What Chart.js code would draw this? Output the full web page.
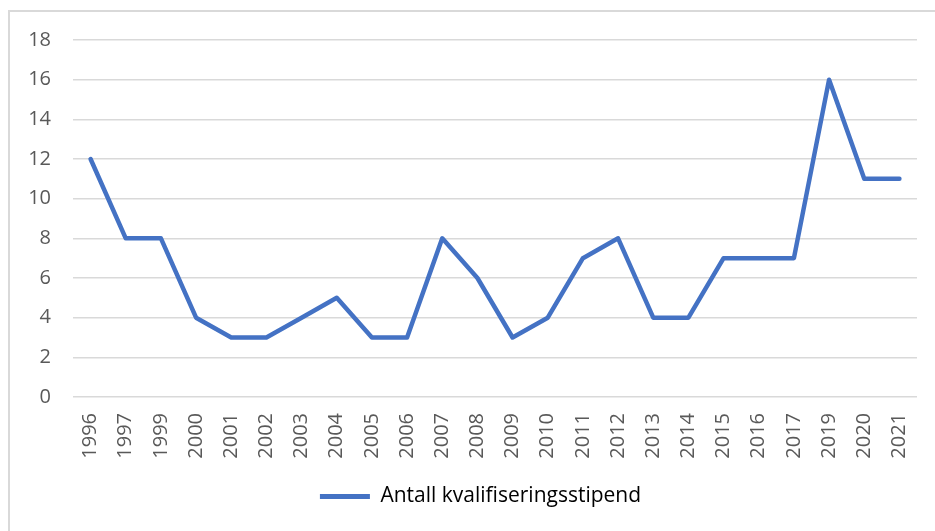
<!DOCTYPE html>
<html>
<head>
<meta charset="utf-8">
<script src="https://cdn.jsdelivr.net/npm/chart.js@4/dist/chart.umd.min.js"></script>
<style>
  html, body { margin: 0; padding: 0; background: #ffffff; }
  #wrap { position: relative; width: 935px; height: 531px; overflow: hidden; }
  #frame { position: absolute; left: 8px; top: 10px; width: 1000px; height: 600px; border: 2px solid #d9d9d9; box-sizing: border-box; }
  canvas { position: absolute; left: 0; top: 0; }
</style>
</head>
<body>
<div id="wrap">
  <div id="frame"></div>
  <canvas id="c" width="935" height="531"></canvas>
</div>
<script>
const years = ["1996","1997","1999","2000","2001","2002","2003","2004","2005","2006","2007","2008","2009","2010","2011","2012","2013","2014","2015","2016","2017","2019","2020","2021"];
const stipend = [12, 8, 8, 4, 3, 3, 4, 5, 3, 3, 8, 6, 3, 4, 7, 8, 4, 4, 7, 7, 7, 16, 11, 11];
const seriesName = "Antall kvalifiseringsstipend";
const yTicks = [0, 2, 4, 6, 8, 10, 12, 14, 16, 18];

const FONT = "'Open Sans', 'Liberation Sans', sans-serif";
const TEXT = "#595959";
const GRID = "#d9d9d9";
const BLUE = "#4472C4";

// The original chart frame is wider than the visible crop, so its legend sits right of the canvas centre.
const legendShift = {
  id: 'legendShift',
  afterLayout(chart) {
    if (chart.legend) { chart.legend.left += 22; chart.legend.right += 22; }
  }
};

new Chart(document.getElementById('c'), {
  type: 'line',
  data: {
    labels: years,
    datasets: [{
      label: seriesName,
      data: stipend,
      borderColor: BLUE,
      backgroundColor: BLUE,
      borderWidth: 4.5,
      borderJoinStyle: 'round',
      borderCapStyle: 'round',
      pointRadius: 0,
      pointHoverRadius: 0,
      tension: 0,
      fill: false
    }]
  },
  options: {
    responsive: false,
    animation: false,
    devicePixelRatio: 1,
    layout: { padding: { left: 0, right: 18, top: 40, bottom: 14 } },
    plugins: {
      tooltip: { enabled: false },
      legend: {
        position: 'bottom',
        labels: {
          color: TEXT,
          font: { family: FONT, size: 21 },
          boxWidth: 50,
          boxHeight: 5,
          padding: 12,
          generateLabels: (chart) => chart.data.datasets.map((d, i) => ({
            text: d.label, fillStyle: d.borderColor, strokeStyle: d.borderColor,
            lineWidth: 0, hidden: false, datasetIndex: i
          }))
        }
      }
    },
    scales: {
      x: {
        offset: true,
        grid: { display: false, drawTicks: false },
        border: { display: false },
        ticks: {
          color: TEXT, font: { family: FONT, size: 20 },
          minRotation: 90, maxRotation: 90, padding: 16, autoSkip: false
        },
        afterFit: (s) => { s.height = 77; s.paddingLeft = 0; s.paddingRight = 0; }
      },
      y: {
        min: 0, max: 18,
        afterBuildTicks: (s) => { s.ticks = yTicks.map(v => ({ value: v })); },
        grid: { color: GRID, lineWidth: 1.5, drawTicks: false },
        border: { display: false },
        ticks: { color: TEXT, font: { family: FONT, size: 20 }, padding: 22 },
        afterFit: (s) => { s.width = 73; }
      }
    }
  },
  plugins: [legendShift]
});
</script>
</body>
</html>
